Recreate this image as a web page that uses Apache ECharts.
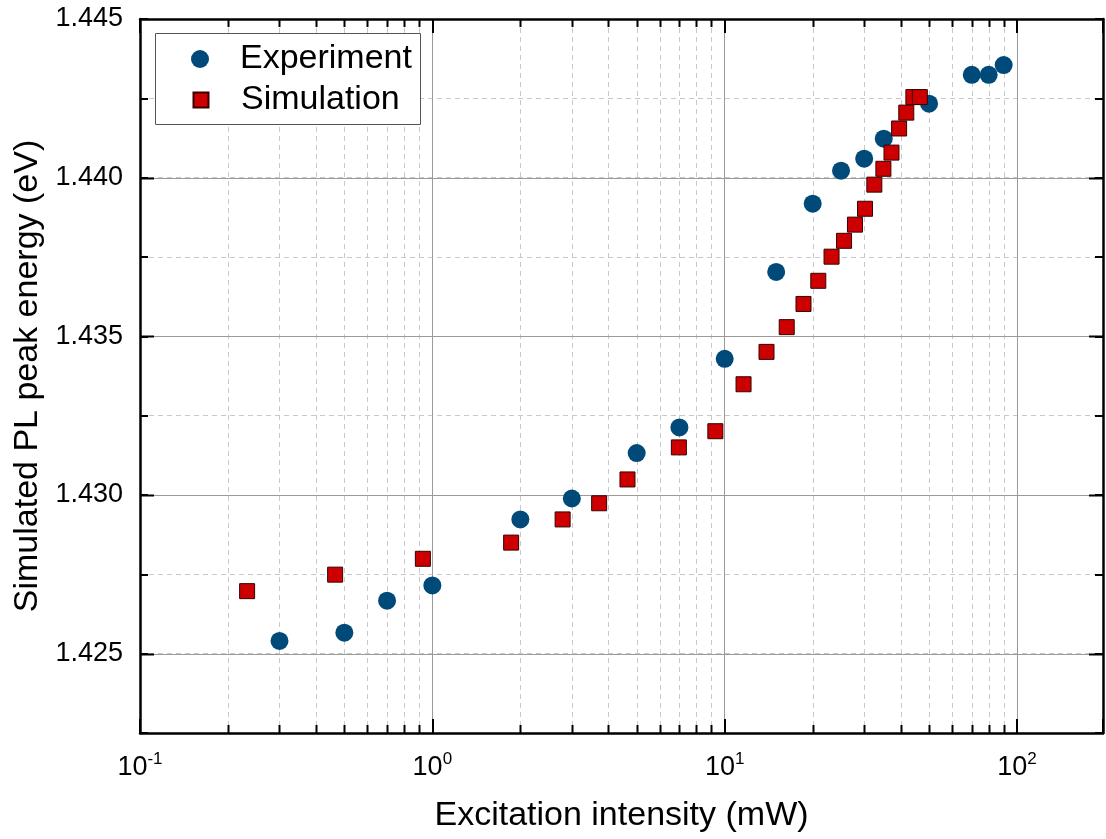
<!DOCTYPE html>
<html>
<head>
<meta charset="utf-8">
<script src="https://cdn.jsdelivr.net/npm/echarts@6/dist/echarts.min.js"></script>
<style>
  html, body { margin: 0; padding: 0; background: #fff; }
  #chart { width: 1106px; height: 839px; }
</style>
</head>
<body>
<div id="chart"></div>
<script>
// Measured peak energies (eV) versus excitation intensity (mW)
const expIntensity = [0.3, 0.5, 0.7, 1.0, 2.0, 3.0, 5.0, 7.0, 10, 15, 20, 25, 30, 35, 50, 70, 80, 90];
const expEnergy = [1.42540, 1.42566, 1.42667, 1.42715, 1.42923, 1.42989, 1.43132, 1.43213, 1.43429,
                   1.43703, 1.43918, 1.44022, 1.44060, 1.44123, 1.44233, 1.44324, 1.44324, 1.44355];

// Simulated peak energies (eV) versus excitation intensity (mW)
const simIntensity = [0.2325, 0.465, 0.928, 1.86, 2.79, 3.72, 4.65, 6.97, 9.29, 11.6, 13.9, 16.3,
                      18.6, 20.9, 23.2, 25.6, 27.9, 30.2, 32.5, 34.9, 37.2, 39.5, 41.8, 44.2, 46.5];
const simEnergy = [1.42697, 1.42749, 1.42799, 1.42850, 1.42923, 1.42974, 1.43049, 1.43150, 1.43201,
                   1.43349, 1.43451, 1.43529, 1.43602, 1.43675, 1.43751, 1.43801, 1.43852, 1.43902,
                   1.43978, 1.44028, 1.44079, 1.44155, 1.44205, 1.44254, 1.44254];

// Axis ranges and tick positions
const xMin = 0.1, xMax = 196.8;
const yMin = 1.4225, yMax = 1.445, yStep = 0.0025, yLabelStep = 0.005;
const xMinorTicks = [0.2, 0.3, 0.4, 0.5, 0.6, 0.7, 0.8, 0.9,
                     2, 3, 4, 5, 6, 7, 8, 9,
                     20, 30, 40, 50, 60, 70, 80, 90];
const yMajorTicks = [1.425, 1.430, 1.435, 1.440];

const FONT = '"Liberation Sans", Arial, Helvetica, sans-serif';
const MAJOR_TICK = 14, MINOR_TICK = 8;
const GRID_SOLID = '#9a9a9a', GRID_DASH = '#c8c8c8';

const chart = echarts.init(document.getElementById('chart'), null, { renderer: 'canvas' });

function isPow10(v) {
  const l = Math.log10(v);
  return Math.abs(l - Math.round(l)) < 1e-6;
}
function isMajorY(v) {
  const r = v / yLabelStep;
  return Math.abs(r - Math.round(r)) < 1e-6;
}

// Dashed gridline plus short inward ticks (bottom and top) at each minor log position
function renderXMinor(params, api) {
  const cs = params.coordSys;
  const px = Math.round(api.coord([api.value(0), api.value(1)])[0]) + 0.5;
  const top = cs.y, bottom = cs.y + cs.height;
  return {
    type: 'group',
    children: [
      { type: 'line', shape: { x1: px, y1: top, x2: px, y2: bottom },
        style: { stroke: GRID_DASH, lineWidth: 1, lineDash: [5, 4] } },
      { type: 'line', shape: { x1: px, y1: bottom, x2: px, y2: bottom - MINOR_TICK },
        style: { stroke: '#000', lineWidth: 2 } },
      { type: 'line', shape: { x1: px, y1: top, x2: px, y2: top + MINOR_TICK },
        style: { stroke: '#000', lineWidth: 2 } }
    ]
  };
}

// Solid gridline plus long inward ticks (left and right) at each labelled energy
function renderYMajor(params, api) {
  const cs = params.coordSys;
  const py = Math.round(api.coord([api.value(0), api.value(1)])[1]) + 0.5;
  const left = cs.x, right = cs.x + cs.width;
  return {
    type: 'group',
    children: [
      { type: 'line', shape: { x1: left, y1: py, x2: right, y2: py },
        style: { stroke: GRID_SOLID, lineWidth: 1 } },
      { type: 'line', shape: { x1: left, y1: py, x2: left + MAJOR_TICK, y2: py },
        style: { stroke: '#000', lineWidth: 2 } },
      { type: 'line', shape: { x1: right, y1: py, x2: right - MAJOR_TICK, y2: py },
        style: { stroke: '#000', lineWidth: 2 } }
    ]
  };
}

const axisLineStyle = { color: '#000', width: 2.5 };
const legendText = { fontSize: 34, color: '#000', fontFamily: FONT, lineHeight: 40 };

const option = {
  animation: false,
  backgroundColor: '#fff',
  textStyle: { fontFamily: FONT },
  grid: { left: 140, top: 19, width: 967, height: 714, containLabel: false },
  xAxis: [
    {
      type: 'log', logBase: 10, min: xMin, max: xMax, position: 'bottom',
      name: 'Excitation intensity (mW)', nameLocation: 'middle', nameGap: 66,
      nameTextStyle: { fontSize: 34, color: '#000', fontFamily: FONT },
      axisLine: { onZero: false, lineStyle: axisLineStyle },
      axisTick: { inside: true, length: MAJOR_TICK, lineStyle: { color: '#000', width: 2 } },
      axisLabel: {
        margin: 18,
        formatter: function (v) {
          if (!isPow10(v)) return '';
          return '{b|10}{s|' + Math.round(Math.log10(v)) + '}';
        },
        rich: {
          b: { fontSize: 27, fontFamily: FONT, color: '#000', lineHeight: 30, verticalAlign: 'bottom' },
          s: { fontSize: 17, fontFamily: FONT, color: '#000', lineHeight: 17, verticalAlign: 'top' }
        }
      },
      splitLine: { show: true, lineStyle: { color: GRID_SOLID, width: 1 } }
    },
    {
      type: 'log', logBase: 10, min: xMin, max: xMax, position: 'top',
      axisLine: { onZero: false, lineStyle: axisLineStyle },
      axisTick: { inside: true, length: MAJOR_TICK, lineStyle: { color: '#000', width: 2 } },
      axisLabel: { show: false },
      splitLine: { show: false }
    }
  ],
  yAxis: [
    {
      type: 'value', min: yMin, max: yMax, interval: yStep, position: 'left',
      name: 'Simulated PL peak energy (eV)', nameLocation: 'middle', nameGap: 94,
      nameTextStyle: { fontSize: 34, color: '#000', fontFamily: FONT },
      axisLine: { onZero: false, lineStyle: axisLineStyle },
      axisTick: { inside: true, length: MINOR_TICK, lineStyle: { color: '#000', width: 2 } },
      axisLabel: {
        margin: 17, fontSize: 27, color: '#000', fontFamily: FONT,
        formatter: function (v) { return isMajorY(v) ? v.toFixed(3) : ''; }
      },
      splitLine: { show: true, lineStyle: { color: GRID_DASH, width: 1, type: [5, 4] } }
    },
    {
      type: 'value', min: yMin, max: yMax, interval: yStep, position: 'right',
      axisLine: { onZero: false, lineStyle: axisLineStyle },
      axisTick: { inside: true, length: MINOR_TICK, lineStyle: { color: '#000', width: 2 } },
      axisLabel: { show: false },
      splitLine: { show: false }
    }
  ],
  legend: [
    {
      data: [{ name: 'Experiment', icon: 'circle' }], orient: 'vertical',
      left: 191, top: 39, padding: 0,
      itemWidth: 70, itemHeight: 18, selectedMode: false, z: 5,
      textStyle: legendText
    },
    {
      data: [{ name: 'Simulation', icon: 'path://M0,0L10,0L10,10L0,10Z' }], orient: 'vertical',
      left: 192.5, top: 80, padding: 0,
      itemWidth: 70, itemHeight: 15, selectedMode: false, z: 5,
      textStyle: legendText
    }
  ],
  graphic: [
    {
      type: 'rect', left: 155, top: 33, z: 3,
      shape: { width: 265, height: 91 },
      style: { fill: '#fff', stroke: '#555', lineWidth: 1 }
    }
  ],
  series: [
    {
      name: 'xMinorGuides', type: 'custom', xAxisIndex: 0, yAxisIndex: 0, z: 1, silent: true,
      renderItem: renderXMinor,
      data: xMinorTicks.map(function (v) { return [v, yMin]; })
    },
    {
      name: 'yMajorGuides', type: 'custom', xAxisIndex: 0, yAxisIndex: 0, z: 1, silent: true,
      renderItem: renderYMajor,
      data: yMajorTicks.map(function (v) { return [xMin, v]; })
    },
    {
      name: 'Experiment', type: 'scatter', xAxisIndex: 0, yAxisIndex: 0, z: 2,
      symbol: 'circle', symbolSize: 18,
      itemStyle: { color: '#004a7a', opacity: 1 },
      data: expIntensity.map(function (x, i) { return [x, expEnergy[i]]; })
    },
    {
      name: 'Simulation', type: 'scatter', xAxisIndex: 0, yAxisIndex: 0, z: 3,
      symbol: 'rect', symbolSize: 15,
      itemStyle: { color: '#cc0000', borderColor: '#3a0000', borderWidth: 1, opacity: 1 },
      data: simIntensity.map(function (x, i) { return [x, simEnergy[i]]; })
    }
  ]
};

chart.setOption(option);
</script>
</body>
</html>
